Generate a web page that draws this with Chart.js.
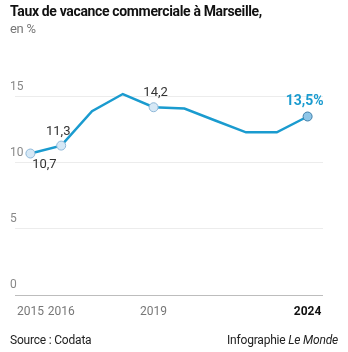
<!DOCTYPE html>
<html lang="fr">
<head>
<meta charset="utf-8">
<script src="https://cdn.jsdelivr.net/npm/chart.js@4"></script>
<style>
  html, body { margin: 0; padding: 0; background: #fff; }
  body { width: 348px; height: 352px; position: relative; overflow: hidden; font-family: Roboto, sans-serif; }
  #wrap { position: absolute; left: 0; top: 0; width: 348px; height: 352px; }
  .title { position: absolute; left: 10px; top: 3px; font-size: 14px; font-weight: bold; color: #111; letter-spacing: -0.35px; white-space: nowrap; }
  .sub { position: absolute; left: 10px; top: 21px; font-size: 13px; color: #777; letter-spacing: -0.3px; }
  .foot { position: absolute; top: 333px; font-size: 12px; color: #222; letter-spacing: -0.2px; white-space: nowrap; }
</style>
</head>
<body>
<div id="wrap"><canvas id="c-vacance" width="348" height="352"></canvas></div>
<div class="title">Taux de vacance commerciale à Marseille,</div>
<div class="sub">en %</div>
<div class="foot" style="left:10px">Source : Codata</div>
<div class="foot" style="right:10px">Infographie <i>Le Monde</i></div>
<script>
var years = [2015, 2016, 2017, 2018, 2019, 2020, 2021, 2022, 2023, 2024];
var rates = [10.7, 11.3, 13.9, 15.2, 14.2, 14.1, 13.2, 12.3, 12.3, 13.5];
var yTicks = [0, 5, 10, 15];
var xTicks = [2015, 2016, 2019, 2024];
// years that get a dot and a value label
var marked = [2015, 2016, 2019, 2024];

var blue = "#1a9bcf";

function fr(v) {
  return String(v).replace(".", ",");
}

var valueLabels = {
  id: "valueLabels",
  afterDatasetsDraw: function (chart) {
    var ctx = chart.ctx;
    var pts = chart.getDatasetMeta(0).data;
    ctx.save();
    ctx.textBaseline = "middle";
    ctx.textAlign = "center";
    years.forEach(function (yr, i) {
      if (marked.indexOf(yr) < 0) return;
      var p = pts[i];
      if (yr === 2024) {
        ctx.font = "bold 14px Roboto";
        ctx.fillStyle = blue;
        ctx.fillText(fr(rates[i]) + "%", p.x - 3, p.y - 15);
      } else if (yr === 2015) {
        ctx.font = "13px Roboto";
        ctx.fillStyle = "#333";
        ctx.fillText(fr(rates[i]), p.x + 14, p.y + 11);
      } else if (yr === 2016) {
        ctx.font = "13px Roboto";
        ctx.fillStyle = "#333";
        ctx.fillText(fr(rates[i]), p.x - 3, p.y - 14);
      } else {
        ctx.font = "13px Roboto";
        ctx.fillStyle = "#333";
        ctx.fillText(fr(rates[i]), p.x + 2, p.y - 14);
      }
    });
    ctx.restore();
  },
};

var ctx = document.getElementById("c-vacance").getContext("2d");
var chart = new Chart(ctx, {
  type: "line",
  data: {
    datasets: [
      {
        data: years.map(function (yr, i) { return { x: yr, y: rates[i] }; }),
        borderColor: blue,
        borderWidth: 2.5,
        tension: 0,
        pointRadius: years.map(function (yr) { return marked.indexOf(yr) < 0 ? 0 : 4.5; }),
        pointBackgroundColor: years.map(function (yr) { return yr === 2024 ? "#8ec6e8" : "#d6e8f6"; }),
        pointBorderColor: years.map(function (yr) { return yr === 2024 ? "#3f7ea8" : "#8fb8d8"; }),
        pointBorderWidth: 1,
      },
    ],
  },
  options: {
    responsive: false,
    animation: false,
    layout: { padding: { left: 15, right: 25, top: 57, bottom: 31 } },
    plugins: { legend: { display: false }, tooltip: { enabled: false } },
    scales: {
      x: {
        type: "linear",
        min: 2014.5,
        max: 2024.5,
        afterBuildTicks: function (s) { s.ticks = xTicks.map(function (v) { return { value: v }; }); },
        afterFit: function (s) { s.height = 26; },
        grid: { display: false, drawTicks: false },
        border: { display: false },
        ticks: {
          padding: 10,
          autoSkip: false,
          maxRotation: 0,
          callback: function (v) { return String(v); },
          color: function (c) { return c.tick.value === 2024 ? "#111" : "#777"; },
          font: function (c) {
            return c.tick && c.tick.value === 2024
              ? { family: "Roboto", size: 12, weight: "bold" }
              : { family: "Roboto", size: 12 };
          },
        },
      },
      y: {
        min: 0,
        max: 18,
        afterBuildTicks: function (s) { s.ticks = yTicks.map(function (v) { return { value: v }; }); },
        afterFit: function (s) { s.width = 0; },
        border: { display: false },
        grid: {
          drawTicks: false,
          color: function (c) { return c.tick.value === 0 ? "#bdbdbd" : "#ececec"; },
          lineWidth: 1,
        },
        ticks: {
          mirror: true,
          padding: -5,
          labelOffset: -10,
          color: "#888",
          font: { family: "Roboto", size: 12 },
        },
      },
    },
  },
  plugins: [valueLabels],
});
</script>
</body>
</html>
